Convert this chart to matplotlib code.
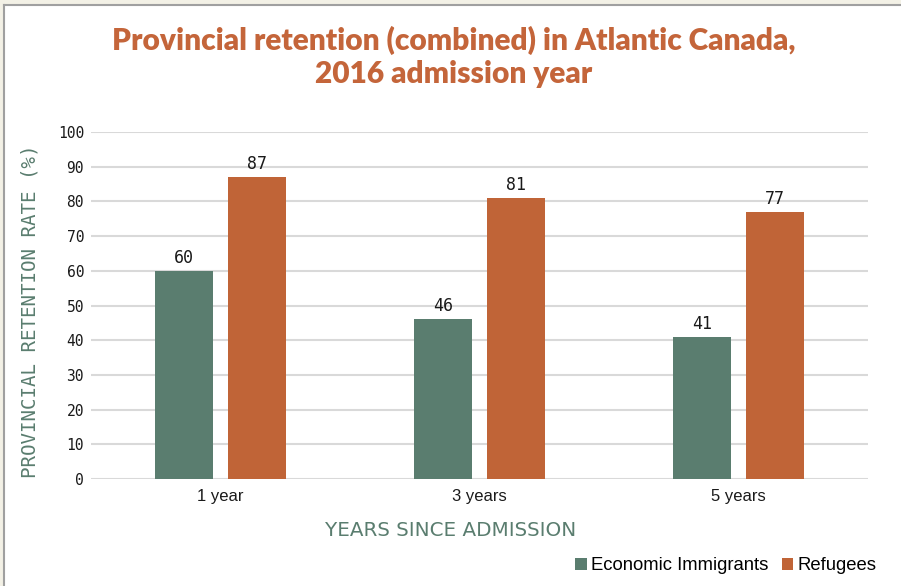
import matplotlib
matplotlib.use("Agg")
import matplotlib.pyplot as plt
from matplotlib.patches import Rectangle
import numpy as np

categories = ["1 year", "3 years", "5 years"]
economic = [60, 46, 41]
refugees = [87, 81, 77]
series_names = ["Economic Immigrants", "Refugees"]
yticks = [0, 10, 20, 30, 40, 50, 60, 70, 80, 90, 100]

GREEN = "#5a7d6f"
ORANGE = "#c06437"
TITLE_C = "#c4653a"

W, H = 901, 586
fig = plt.figure(figsize=(W / 100, H / 100), dpi=100)
fig.patch.set_facecolor("white")

# card frame (screenshot border)
fig.patches.append(Rectangle((0, 1 - 4.5 / H), 1, 4.5 / H, transform=fig.transFigure,
                             facecolor="#f3f1e6", edgecolor="none", zorder=0))
fig.patches.append(Rectangle((0, 0), 3 / W, 1, transform=fig.transFigure,
                             facecolor="#f3f1e6", edgecolor="none", zorder=0))
fig.add_artist(plt.Line2D([3.5 / W, 1], [1 - 5 / H, 1 - 5 / H], transform=fig.transFigure,
                          color="#a0a0a0", lw=1.5))
fig.add_artist(plt.Line2D([3.5 / W, 3.5 / W], [0, 1 - 5 / H], transform=fig.transFigure,
                          color="#a0a0a0", lw=1.5))

ax_l, ax_r, ax_b, ax_t = 91, 868, 479, 132
ax = fig.add_axes([ax_l / W, 1 - ax_b / H, (ax_r - ax_l) / W, (ax_b - ax_t) / H])

x = np.arange(len(categories))
bw = 0.224
off = 0.14
b1 = ax.bar(x - off, economic, bw, color=GREEN, label=series_names[0], zorder=3)
b2 = ax.bar(x + off, refugees, bw, color=ORANGE, label=series_names[1], zorder=3)

for bars, vals in ((b1, economic), (b2, refugees)):
    for rect, v in zip(bars, vals):
        ax.annotate(f"{v}", (rect.get_x() + rect.get_width() / 2, v),
                    xytext=(0, 3), textcoords="offset points", ha="center", va="bottom",
                    fontsize=12, family="DejaVu Sans Mono", color="#1a1a1a")

ax.set_xlim(-0.5, 2.5)
ax.set_ylim(0, 100)
ax.set_yticks(yticks)
ax.set_yticklabels([str(t) for t in yticks], family="DejaVu Sans Mono", fontsize=10.5,
                   color="#1a1a1a")
ax.set_xticks(x)
ax.set_xticklabels(categories, family="Liberation Sans", fontsize=12, color="#1a1a1a")
ax.tick_params(axis="both", length=0)
ax.tick_params(axis="y", pad=5)
ax.tick_params(axis="x", pad=7)
ax.yaxis.grid(True, color="#d9d9d9", lw=1.5, zorder=0)
ax.set_axisbelow(True)
for s in ax.spines.values():
    s.set_visible(False)

fig.text(30 / W, 1 - 311 / H, "PROVINCIAL RETENTION RATE (%)", rotation=90,
         ha="center", va="center", family="DejaVu Sans Mono", fontsize=13.8, color=GREEN)
fig.text(451 / W, 1 - 531 / H, "YEARS SINCE ADMISSION", ha="center", va="center",
         family="DejaVu Sans", fontsize=14.3, color=GREEN)

fig.text(454 / W, 1 - 57 / H, "Provincial retention (combined) in Atlantic Canada,\n2016 admission year",
         ha="center", va="center", family="Lato", fontweight="heavy", fontsize=21.5,
         color=TITLE_C, linespacing=1.2)

leg = fig.legend(handles=[b1, b2], labels=series_names, loc="center right",
                 bbox_to_anchor=(876 / W, 1 - 566 / H), ncol=2, frameon=False,
                 prop={"family": "Liberation Sans", "size": 13.3}, handlelength=0.62,
                 handleheight=0.62, handletextpad=0.2, columnspacing=0.75,
                 borderpad=0, borderaxespad=0)

fig.savefig("out.png", dpi=100, facecolor="white")
